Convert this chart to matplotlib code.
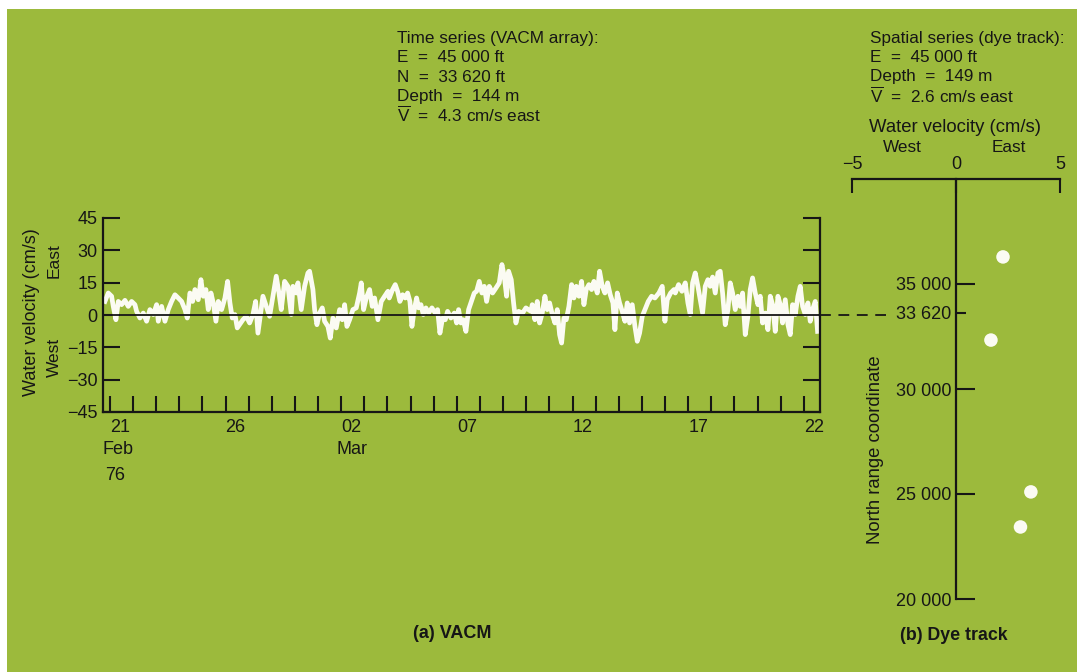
import matplotlib
matplotlib.use('Agg')
import matplotlib.pyplot as plt
from matplotlib.ticker import FixedLocator, FixedFormatter
from matplotlib.patches import Rectangle

plt.rcParams['font.family'] = ['Liberation Sans', 'DejaVu Sans']
plt.rcParams['mathtext.fontset'] = 'custom'
plt.rcParams['mathtext.rm'] = 'Liberation Sans'
plt.rcParams['mathtext.it'] = 'Liberation Sans:italic'

# ---------------- data ----------------
# (a) VACM time series: days since 21 Feb 1976, east velocity (cm/s)
DAYS = [
    -0.216, -0.072, 0.072, 0.144, 0.259, 0.360, 0.505, 0.649, 0.792, 0.937,
    1.081, 1.153, 1.297, 1.441, 1.585, 1.729, 1.873, 2.018, 2.090, 2.234,
    2.378, 2.522, 2.666, 2.810, 2.954, 3.099, 3.243, 3.343, 3.459, 3.574,
    3.675, 3.819, 3.934, 4.035, 4.150, 4.251, 4.367, 4.467, 4.583, 4.684,
    4.828, 4.972, 5.087, 5.188, 5.289, 5.404, 5.505,
    5.750, 5.894, 6.039, 6.183, 6.298, 6.399, 6.615, 6.759, 6.903, 7.047,
    7.191, 7.307, 7.407, 7.552, 7.696, 7.840, 7.912, 8.056, 8.128, 8.272,
    8.416, 8.560, 8.632, 8.776, 8.849, 8.949, 9.065, 9.180, 9.281, 9.425,
    9.526, 9.641, 9.785, 9.930, 10.044, 10.146, 10.246, 10.362, 10.506, 10.650,
    10.794, 10.866, 10.967, 11.082, 11.226, 11.341, 11.443, 11.587, 11.731, 11.875,
    12.019,
    12.077, 12.221, 12.336, 12.437, 12.538, 12.653, 12.768, 12.869, 12.970, 13.057,
    13.157, 13.258, 13.345, 13.446, 13.546, 13.662, 13.777, 13.921, 14.065, 14.166,
    14.267, 14.382, 14.498, 14.599, 14.743, 14.887, 14.988, 15.074, 15.175, 15.276,
    15.391, 15.507, 15.607, 15.751, 15.852, 15.968, 16.083, 16.184, 16.285, 16.400,
    16.544, 16.688, 16.832, 16.948, 17.048, 17.149, 17.236, 17.351, 17.452, 17.553,
    17.668, 17.841, 17.985, 18.201,
    18.259, 18.374, 18.475, 18.576, 18.691, 18.807, 18.907, 19.009, 19.124, 19.239,
    19.340, 19.441, 19.528, 19.628, 19.729, 19.844, 19.960, 20.061, 20.161, 20.277,
    20.392, 20.493, 20.594, 20.709, 20.825, 20.925, 21.069, 21.170, 21.285, 21.401,
    21.516, 21.631, 21.747, 21.833, 21.934, 22.035, 22.150, 22.265, 22.366, 22.467,
    22.582, 22.698, 22.799, 22.900, 23.015, 23.159, 23.274, 23.418, 23.562, 23.735,
    23.879, 23.995, 24.096, 24.240, 24.384,
    24.442, 24.586, 24.730, 24.874, 24.989, 25.090, 25.191, 25.306, 25.421, 25.522,
    25.623, 25.738, 25.854, 25.954, 26.056, 26.171, 26.286, 26.387, 26.488, 26.603,
    26.719, 26.819, 26.920, 27.036, 27.151, 27.252, 27.353, 27.468, 27.583, 27.684,
    27.785, 27.900, 28.016, 28.116, 28.217, 28.333, 28.448, 28.549, 28.650, 28.765,
    28.881, 28.981, 29.082, 29.198, 29.313, 29.414, 29.515, 29.630, 29.745, 29.846,
    29.947, 30.062, 30.178, 30.278, 30.379, 30.495, 30.595,
]
VEL = [
    6.3, 10.2, 8.7, 4, -2.2, 6.3, 4.8, 6.8, 4, 6.3,
    4.8, 1.7, -1.4, 0.9, -2.9, 2.5, 0.2, 4.8, -2.9, 4,
    -2.9, 2.5, 6.3, 9.4, 7.9, 6.3, 2.5, -1.4, 10.2, 6.3,
    11.8, 7.1, 16.4, 8.7, 11.8, 2.5, 10.2, 5.6, -2.9, 6.3,
    2.5, 7.9, 15.6, 5.6, -1.4, 0.2, -6,
    -2.2, -0.6, -3.7, 0.2, 6.3, -8.4, 8.7, 4, -0.6, 8.7,
    18, 10.2, 2.5, 15.6, 13.3, 0.2, 13.3, 10.2, 14.9, 2.5,
    13.3, 19.5, 20.3, 11.8, 2.5, -4.5, 0.9, 3.3, -2.9, -5.3,
    -10.7, -1.4, -6, 2.5, -2.2, 4.8, -5.3, -2.2, 2.5, 3.3,
    10.2, 14.9, 2.5, 7.9, 11.8, 4, 7.9, -2.2, 6.3, 8.7,
    11,
    7.9, 11.8, 14.1, 11, 6.3, 9.4, 7.9, 10.2, 6.3, -5.3,
    2.5, 7.9, 3.3, 4.8, 0.2, 3.3, 0.9, 3.3, 0.9, 2.5,
    -8.4, -1.4, -2.2, 1.7, -1.4, 0.9, -3.7, 2.5, -3.7, -2.2,
    -7.6, 2.5, 5.6, 10.2, 11, 15.6, 10.2, 13.3, 6.3, 13.3,
    10.2, 12.5, 14.9, 23.4, 18, 8.7, 20.3, 16.4, 5.6, -3.7,
    1.7, 0.9, 3.3, 1.7,
    4.8, -2.2, 6.3, -3.7, 0.9, 8.7, 2.5, 5.6, 0.2, -3.7,
    2.5, -9.1, -13, -1.4, -2.2, 4, 14.1, 7.9, 13.3, 8.7,
    15.6, 4.8, 11.8, 14.1, 11.8, 15.6, 10.2, 20.3, 13.3, 10.2,
    14.9, 9.4, 5.6, -6.8, 10.2, 5.6, 1.7, -2.9, 5.6, -3.7,
    4.8, -5.3, -12.2, -8.4, -0.6, 3.3, 6.3, 8.7, 7.9, 10.2,
    13.3, -2.9, 7.1, 10.2, 11.8,
    10.2, 14.1, 11, 14.9, 5.6, 0.2, 14.9, 19.5, 13.3, 7.1,
    0.9, 13.3, 16.4, 13.3, 17.6, 10.2, 19.5, 20.3, 10.2, -4.5,
    2.5, 14.9, 10.2, 2.5, 8.7, 4, 10.2, -9.1, -0.6, 11.8,
    17.2, 10.2, 4.8, 8.7, -3.7, 0.9, -6.8, 8.7, 4.8, -7.6,
    8.7, 4.8, -3.7, 7.1, -4.5, -9.1, 4.8, 0.2, 8.7, 13.3,
    4, 0.2, 5.6, -2.9, 2.5, 6.3, -7.6,
]
VEL_TICKS = [-45, -30, -15, 0, 15, 30, 45]
DAY_TICKS = [0, 5, 10, 15, 20, 25, 30]
DAY_LABELS = ['21', '26', '02', '07', '12', '17', '22']

# (b) dye track: velocity (cm/s, east +) vs north range coordinate (ft)
DYE_VEL = [2.26, 1.68, 3.6, 3.1]
DYE_NORTH = [36290, 32330, 25100, 23430]
NORTH_TICKS = [20000, 25000, 30000, 35000]
NORTH_LABELS = ['20 000', '25 000', '30 000', '35 000']
VACM_NORTH = 33620
VACM_NORTH_LABEL = '33 620'
DYE_VEL_TICKS = [-5, 0, 5]

# ---------------- style ----------------
W, H = 1077, 672
BG = '#9cba3c'
INK = '#161616'
LINE_WHITE = '#fbfbf3'

def fx(px):
    return px / W

def fy(py):
    return 1 - py / H

fig = plt.figure(figsize=(W / 100, H / 100), dpi=100, facecolor='white')
fig.patches.append(Rectangle((fx(7), 0), 1 - fx(7), fy(9), transform=fig.transFigure,
                             facecolor=BG, edgecolor='none', zorder=-10))

TS = 13          # tick labels / axis labels
HS = 12.3        # header text

# ---------------- (a) VACM ----------------
ax = fig.add_axes([fx(103), fy(412), fx(820) - fx(103), fy(218) - fy(412)])
ax.set_facecolor('none')
ax.plot(DAYS, VEL, color=LINE_WHITE, lw=3.4, solid_joinstyle='round', zorder=2)
ax.axhline(0, color=INK, lw=1.3, zorder=3)
ax.set_xlim(-0.30, 30.70)
ax.set_ylim(-45, 45)
for s in ['left', 'right', 'bottom']:
    ax.spines[s].set_linewidth(1.6)
    ax.spines[s].set_color(INK)
ax.spines['top'].set_visible(False)
ax.set_yticks(VEL_TICKS)
ax.set_yticklabels([f'{v}'.replace('-', '\u2212') for v in VEL_TICKS])
ax.tick_params(axis='y', which='both', direction='in', length=12, width=1.5,
               colors=INK, labelsize=TS, pad=4, right=True, left=True)
ax.set_xticks(DAY_TICKS)
ax.set_xticklabels(DAY_LABELS, ha='left')
ax.xaxis.set_minor_locator(FixedLocator(list(range(0, 31))))
ax.tick_params(axis='x', which='both', direction='in', length=11.5, width=1.5,
               colors=INK, labelsize=TS, pad=5)
for lab in ax.get_xticklabels():
    lab.set_horizontalalignment('left')

# dashed connection of zero line to the right panel's 33 620 tick
ax.plot([30.70, 33.55], [0, 0], color=INK, lw=1.3, ls=(0, (6, 4.2)),
        clip_on=False, zorder=3)

fig.text(fx(32), fy(312), 'Water velocity (cm/s)', rotation=90, ha='center', va='center',
         fontsize=TS, color=INK)
fig.text(fx(54), fy(261), 'East', rotation=90, ha='center', va='center', fontsize=TS - 0.5, color=INK)
fig.text(fx(54), fy(357), 'West', rotation=90, ha='center', va='center', fontsize=TS - 0.5, color=INK)
fig.text(fx(102), fy(450), 'Feb', ha='left', va='center', fontsize=TS, color=INK)
fig.text(fx(105), fy(476), '76', ha='left', va='center', fontsize=TS, color=INK)
fig.text(fx(337), fy(450), 'Mar', ha='left', va='center', fontsize=TS, color=INK)
fig.text(fx(452), fy(633), '(a) VACM', ha='center', va='center', fontsize=13,
         fontweight='bold', color=INK)

# ---------------- (b) Dye track ----------------
bx = fig.add_axes([fx(852), fy(599), fx(1060) - fx(852), fy(179) - fy(599)])
bx.set_facecolor('none')
bx.set_xlim(-5, 5)
bx.set_ylim(20000, 40000)
bx.scatter(DYE_VEL, DYE_NORTH, s=95, color=LINE_WHITE, edgecolors='none', zorder=3,
           clip_on=False)
bx.spines['left'].set_position(('data', 0))
for s in ['right', 'bottom']:
    bx.spines[s].set_visible(False)
for s in ['left', 'top']:
    bx.spines[s].set_linewidth(1.6)
    bx.spines[s].set_color(INK)
bx.xaxis.set_ticks_position('top')
bx.set_xticks(DYE_VEL_TICKS)
bx.set_xticklabels([f'{v}'.replace('-', '\u2212') for v in DYE_VEL_TICKS])
bx.tick_params(axis='x', direction='in', length=10, width=1.5, colors=INK,
               labelsize=TS, pad=4, top=True, bottom=False)
bx.set_yticks(NORTH_TICKS)
bx.set_yticklabels(NORTH_LABELS)
bx.yaxis.set_minor_locator(FixedLocator([VACM_NORTH]))
bx.yaxis.set_minor_formatter(FixedFormatter([VACM_NORTH_LABEL]))
bx.tick_params(axis='y', which='major', direction='in', length=14, width=1.5,
               colors=INK, labelsize=TS, pad=3.5)
bx.tick_params(axis='y', which='minor', direction='in', length=7, width=1.5,
               colors=INK, labelsize=TS, pad=3.5)

fig.text(fx(875), fy(450), 'North range coordinate', rotation=90, ha='center', va='center',
         fontsize=13.3, color=INK)
fig.text(fx(954), fy(635), '(b) Dye track', ha='center', va='center', fontsize=12.8,
         fontweight='bold', color=INK)
fig.text(fx(869), fy(127), 'Water velocity (cm/s)', ha='left', va='center', fontsize=13.3, color=INK)
fig.text(fx(883), fy(148), 'West', ha='left', va='center', fontsize=HS, color=INK)
fig.text(fx(992), fy(148), 'East', ha='left', va='center', fontsize=HS, color=INK)

# ---------------- header text ----------------
VBAR = r'$\overline{\mathrm{V}}$'
left_lines = ['Time series (VACM array):', 'E  =  45 000 ft', 'N  =  33 620 ft',
              'Depth  =  144 m', VBAR + '  =  4.3 cm/s east']
for i, t in enumerate(left_lines):
    fig.text(fx(397), fy(39 + 19 * i), t, ha='left', va='center', fontsize=HS, color=INK)
right_lines = ['Spatial series (dye track):', 'E  =  45 000 ft', 'Depth  =  149 m',
               VBAR + '  =  2.6 cm/s east']
for i, t in enumerate(right_lines):
    fig.text(fx(870), fy(38 + 19.3 * i), t, ha='left', va='center', fontsize=HS, color=INK)

fig.savefig('out.png', dpi=100, facecolor=fig.get_facecolor())
